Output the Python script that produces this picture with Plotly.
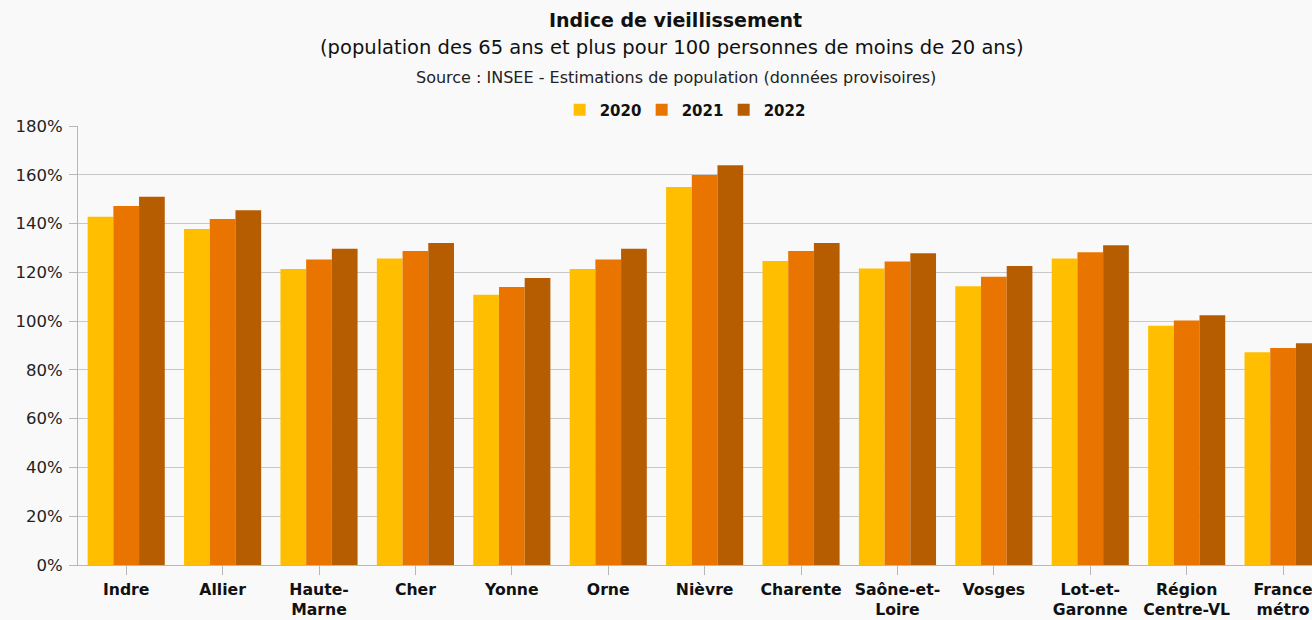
import plotly.graph_objects as go

categories = ["Indre", "Allier", "Haute-<br>Marne", "Cher", "Yonne", "Orne", "Nièvre",
              "Charente", "Saône-et-<br>Loire", "Vosges", "Lot-et-<br>Garonne",
              "Région<br>Centre-VL", "France<br>métro"]
years = ["2020", "2021", "2022"]
v2020 = [142.8, 137.8, 121.4, 125.7, 110.8, 121.4, 155.0, 124.6, 121.6, 114.3, 125.7, 98.1, 87.2]
v2021 = [147.2, 141.9, 125.3, 128.7, 114.0, 125.3, 159.9, 128.7, 124.4, 118.2, 128.2, 100.2, 89.0]
v2022 = [151.0, 145.5, 129.7, 132.0, 117.7, 129.7, 163.9, 132.0, 127.8, 122.6, 131.1, 102.4, 90.9]
colors = ["#FFBF00", "#E97500", "#B55D00"]

W, H = 1312, 620
L, T, B = 78, 126, 55
plot_h = H - T - B
FONT = "DejaVu Sans, Liberation Sans, Arial, sans-serif"

def py(p):
    return (H - B - p) / plot_h

fig = go.Figure()
for name, vals, c in zip(years, [v2020, v2021, v2022], colors):
    fig.add_trace(go.Bar(x=list(range(len(categories))), y=[v / 100 for v in vals],
                         name="<b>%s</b>" % name, marker=dict(color=c, line=dict(width=0))))

fig.update_layout(
    width=W, height=H,
    margin=dict(l=L, r=0, t=T, b=B, autoexpand=False),
    paper_bgcolor="#f9f9f9", plot_bgcolor="#f9f9f9",
    barmode="group", bargap=0.2, bargroupgap=0,
    font=dict(family=FONT, color="#222"),
    showlegend=True,
    legend=dict(orientation="h", x=0.49, xanchor="center", y=py(110), yanchor="middle",
                font=dict(size=15, color="#111", family=FONT),
                entrywidth=37, entrywidthmode="pixels",
                bgcolor="rgba(0,0,0,0)", itemclick=False),
    xaxis=dict(
        tickmode="array", tickvals=list(range(len(categories))),
        ticktext=["<b>%s</b>" % c for c in categories],
        range=[-0.5, 12.3], showgrid=False, zeroline=False,
        ticks="outside", tickson="boundaries", ticklen=9, tickcolor="#b8b8b8",
        tickfont=dict(size=15.7, color="#111", family=FONT), showline=True, linecolor="#b8b8b8",
        ticklabelstandoff=1, ticklabeloverflow="allow", automargin=False, fixedrange=True,
    ),
    yaxis=dict(
        range=[0, 1.8], dtick=0.2, tickformat=".0%",
        showgrid=True, gridcolor="#c8c8c8", gridwidth=1,
        zeroline=False, showline=True, linecolor="#b8b8b8",
        ticks="outside", ticklen=8, tickcolor="#b8b8b8",
        tickfont=dict(size=16.5, color="#222", family=FONT),
        ticklabelstandoff=3, automargin=False, fixedrange=True,
    ),
    annotations=[
        dict(text="<b>Indice de vieillissement</b>", xref="paper", yref="paper",
             x=(675 - L) / (W - L), y=py(20), xanchor="center", yanchor="middle",
             showarrow=False, font=dict(size=19, color="#111", family=FONT)),
        dict(text="(population des 65 ans et plus pour 100 personnes de moins de 20 ans)",
             xref="paper", yref="paper",
             x=(672 - L) / (W - L), y=py(48), xanchor="center", yanchor="middle",
             showarrow=False, font=dict(size=19.5, color="#111", family=FONT)),
        dict(text="Source : INSEE - Estimations de population (données provisoires)",
             xref="paper", yref="paper",
             x=(676 - L) / (W - L), y=py(77), xanchor="center", yanchor="middle",
             showarrow=False, font=dict(size=16, color="#222", family=FONT)),
    ],
)

fig.write_html("out.html", config={"displayModeBar": False},
               post_script="document.body.style.margin='0';")
